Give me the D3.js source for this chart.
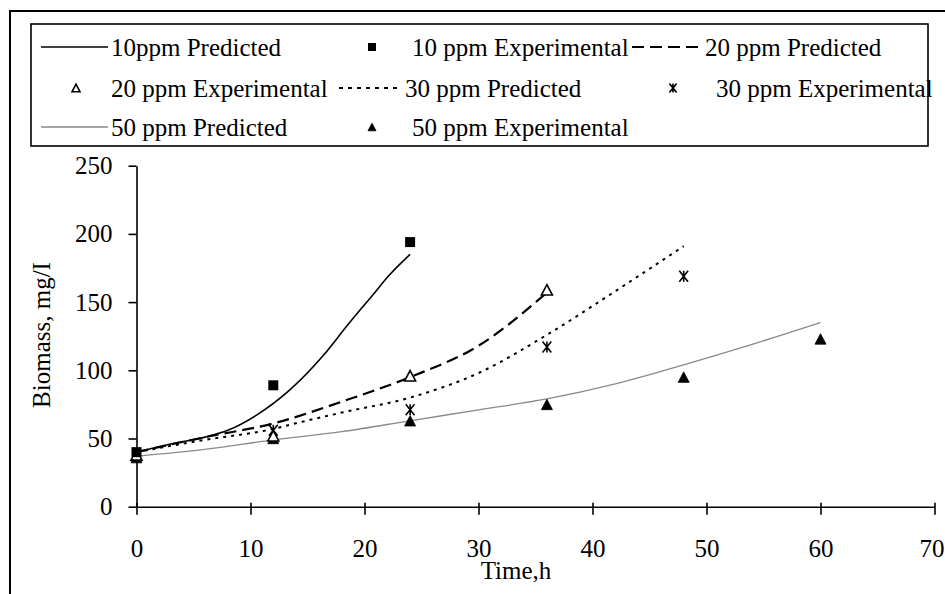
<!DOCTYPE html>
<html>
<head>
<meta charset="utf-8">
<script src="https://cdn.jsdelivr.net/npm/d3@7/dist/d3.min.js"></script>
<style>
  html, body { margin: 0; padding: 0; background: #fff; }
  svg { display: block; }
  text { font-family: "Liberation Serif", "Times New Roman", serif; fill: #000; }
</style>
</head>
<body>
<svg id="chart" width="945" height="594"></svg>
<script>
// ---- Data ----
const xTicks = [0, 10, 20, 30, 40, 50, 60, 70];
const yTicks = [0, 50, 100, 150, 200, 250];

const pred10T = [0, 3, 6, 8, 10.5, 13.5, 16.4, 18.5, 20.8, 22.2, 24];
const pred10V = [40, 46, 51, 56, 67, 86, 111, 133, 156, 170, 185];

const pred20T = [0, 6, 12, 18, 24, 30, 36];
const pred20V = [40, 51, 61, 77, 95, 118, 157];

const pred30T = [0, 6, 12, 14.4, 18, 24, 30, 36, 42, 48];
const pred30V = [40, 49, 57, 62, 69, 80, 98, 126, 158, 191];

const pred50T = [0, 6, 12, 18, 24, 30, 36, 42, 48, 54, 60];
const pred50V = [37, 42, 49, 55, 63, 71, 79, 90, 104, 119, 135];

const exp10T = [0, 12, 24];
const exp10V = [40, 89, 194];

const exp20T = [0, 12, 24, 36];
const exp20V = [38, 52, 96, 159];

const exp30T = [0, 12, 24, 36, 48];
const exp30V = [38, 56, 71, 117, 169];

const exp50T = [0, 12, 24, 36, 48, 60];
const exp50V = [36, 50, 63, 75, 95, 123];

const seriesNames = [
  "10ppm Predicted", "10 ppm Experimental", "20 ppm Predicted",
  "20 ppm Experimental", "30 ppm Predicted", "30 ppm Experimental",
  "50 ppm Predicted", "50 ppm Experimental"
];
const xTitle = "Time,h";
const yTitle = "Biomass, mg/I";

// ---- Drawing ----
const svg = d3.select("#chart");
const zip = (T, V) => T.map((t, i) => ({ t, v: V[i] }));

const x = d3.scaleLinear().domain([0, 70]).range([136.5, 934.5]);
const y = d3.scaleLinear().domain([0, 250]).range([506.7, 165.7]);

// outer frame
svg.append("rect").attr("x", 10).attr("y", 11).attr("width", 1000).attr("height", 1000)
  .attr("fill", "none").attr("stroke", "#000").attr("stroke-width", 2);

// axes
const xAxis = svg.append("g").attr("transform", `translate(0,${y(0)})`)
  .call(d3.axisBottom(x).tickValues(xTicks).tickSize(8).tickSizeOuter(0).tickPadding(25));
const yAxis = svg.append("g").attr("transform", `translate(${x(0)},0)`)
  .call(d3.axisLeft(y).tickValues(yTicks).tickSize(8).tickSizeOuter(0).tickPadding(16));
[xAxis, yAxis].forEach(g => {
  g.select(".domain").attr("stroke", "#000").attr("stroke-width", 1.6);
  g.selectAll(".tick line").attr("stroke", "#000").attr("stroke-width", 1.6);
  g.selectAll(".tick text").attr("font-family", "Liberation Serif, serif")
    .attr("font-size", 25).attr("fill", "#000");
});
xAxis.selectAll(".tick line").attr("y1", -4);
// keep the last tick label inside the window
xAxis.selectAll(".tick text").filter(d => d === 70).attr("dx", -3);

// axis titles
svg.append("text").attr("x", 516).attr("y", 579).attr("text-anchor", "middle")
  .attr("font-size", 25).text(xTitle);
svg.append("text").attr("transform", `translate(50,335) rotate(-90)`)
  .attr("text-anchor", "middle").attr("font-size", 25).text(yTitle);

// line styles
const styles = {
  p10: { stroke: "#000", width: 1.6, dash: null },
  p20: { stroke: "#000", width: 2.2, dash: "12,6" },
  p30: { stroke: "#000", width: 2, dash: "3,5" },
  p50: { stroke: "#8a8a8a", width: 1.3, dash: null }
};
const line = d3.line().x(d => x(d.t)).y(d => y(d.v)).curve(d3.curveMonotoneX);
const drawLine = (data, st) => svg.append("path").datum(data)
  .attr("d", line).attr("fill", "none").attr("stroke", st.stroke)
  .attr("stroke-width", st.width).attr("stroke-dasharray", st.dash);

drawLine(zip(pred50T, pred50V), styles.p50);
drawLine(zip(pred30T, pred30V), styles.p30);
drawLine(zip(pred20T, pred20V), styles.p20);
drawLine(zip(pred10T, pred10V), styles.p10);

// markers
function marker(g, kind, cx, cy, s) {
  if (kind === "square") {
    g.append("rect").attr("x", cx - s / 2).attr("y", cy - s / 2).attr("width", s).attr("height", s).attr("fill", "#000");
  } else if (kind === "tri-open" || kind === "tri-fill") {
    const h = s * 0.95;
    const p = d3.path();
    p.moveTo(cx, cy - h / 2); p.lineTo(cx + s / 2, cy + h / 2); p.lineTo(cx - s / 2, cy + h / 2); p.closePath();
    g.append("path").attr("d", p.toString())
      .attr("fill", kind === "tri-fill" ? "#000" : "#fff")
      .attr("stroke", "#000").attr("stroke-width", kind === "tri-fill" ? 0.8 : 1.6)
      .attr("stroke-linejoin", "miter");
  } else if (kind === "star") {
    const r = s / 2;
    const p = d3.path();
    p.moveTo(cx - r * 0.8, cy - r); p.lineTo(cx + r * 0.8, cy + r);
    p.moveTo(cx - r * 0.8, cy + r); p.lineTo(cx + r * 0.8, cy - r);
    p.moveTo(cx, cy - r); p.lineTo(cx, cy + r);
    g.append("path").attr("d", p.toString()).attr("stroke", "#000").attr("stroke-width", 1.6).attr("fill", "none");
  }
}
const mg = svg.append("g");
zip(exp50T, exp50V).forEach(d => marker(mg, "tri-fill", x(d.t), y(d.v), 11));
zip(exp30T, exp30V).forEach(d => marker(mg, "star", x(d.t), y(d.v), 11));
zip(exp20T, exp20V).forEach(d => marker(mg, "tri-open", x(d.t), y(d.v), 11));
zip(exp10T, exp10V).forEach(d => marker(mg, "square", x(d.t), y(d.v), 10));

// ---- Legend ----
const lg = svg.append("g");
lg.append("rect").attr("x", 31).attr("y", 24).attr("width", 897).attr("height", 122)
  .attr("fill", "#fff").attr("stroke", "#000").attr("stroke-width", 1.6);

const rowsY = [47, 88, 127];
const legendItems = [
  { name: seriesNames[0], type: "line", st: styles.p10, x0: 41, x1: 108, tx: 111, row: 0 },
  { name: seriesNames[1], type: "square", mx: 372, tx: 412, row: 0 },
  { name: seriesNames[2], type: "line", st: styles.p20, x0: 632, x1: 702, tx: 705, row: 0 },
  { name: seriesNames[3], type: "tri-open", mx: 76, tx: 111, row: 1 },
  { name: seriesNames[4], type: "line", st: styles.p30, x0: 339, x1: 402, tx: 405, row: 1 },
  { name: seriesNames[5], type: "star", mx: 673, tx: 716, row: 1 },
  { name: seriesNames[6], type: "line", st: styles.p50, x0: 41, x1: 108, tx: 111, row: 2 },
  { name: seriesNames[7], type: "tri-fill", mx: 372, tx: 412, row: 2 }
];
legendItems.forEach(it => {
  const cy = rowsY[it.row];
  if (it.type === "line") {
    lg.append("line").attr("x1", it.x0).attr("x2", it.x1).attr("y1", cy).attr("y2", cy)
      .attr("stroke", it.st.stroke).attr("stroke-width", it.st.width)
      .attr("stroke-dasharray", it.st.dash === "3,5" ? "4,5" : it.st.dash);
  } else {
    const size = it.type === "square" ? 8 : (it.type === "star" ? 9 : 8);
    marker(lg, it.type, it.mx, cy, size);
  }
  lg.append("text").attr("x", it.tx).attr("y", cy).attr("dy", "0.35em")
    .attr("font-size", 25).text(it.name);
});
</script>
</body>
</html>
